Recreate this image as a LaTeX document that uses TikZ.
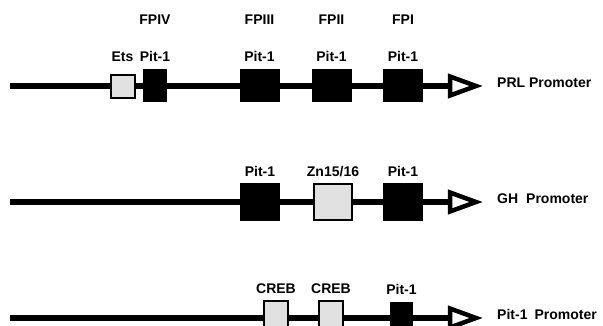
\documentclass[tikz,border=0pt]{standalone}
\usepackage{fontspec}
\setmainfont{Liberation Sans}
\usetikzlibrary{positioning}
\definecolor{boxgrey}{RGB}{225,225,225}

\begin{document}
\begin{tikzpicture}[
      x=1pt,y=-1pt,
      font=\fontsize{14}{16}\selectfont\bfseries,
      dna/.style={line width=6pt},
      tss/.style={line width=4.5pt,fill=white,line join=miter},
      pitbox/.style={fill=black,inner sep=0pt,minimum width=40pt,minimum height=38pt},
      greybox/.style={draw=black,line width=2pt,fill=boxgrey,inner sep=0pt,minimum width=38pt,minimum height=36pt},
      lbl/.style={inner sep=0pt,text height=10pt,text depth=0pt},
      promoter/.style={lbl,anchor=west}
    ]
      \useasboundingbox (0,0) rectangle (603,326);

      % PRL promoter
      \coordinate (prlstart) at (10,86);
      \coordinate (prltss) at (450,86);
      \draw[dna] (prlstart) -- (prltss);
      \draw[tss] (prltss) -- ++(0,-9.5) -- ++(26,9.5) -- ++(-26,9.5) -- cycle;
      \node[greybox,minimum width=24pt,minimum height=23pt] (ets) at (122.5,86.5) {};
      \node[pitbox,minimum width=24pt,minimum height=33pt] (fpiv) at (155,85.5) {};
      \node[pitbox,minimum height=33pt] (fpiii) at (259.5,85.5) {};
      \node[pitbox,minimum height=33pt] (fpii) at (331.5,85.5) {};
      \node[pitbox,minimum height=33pt] (fpi) at (403,85.5) {};
      \node[lbl,above=7pt of fpiv] (fpivlbl) {Pit-1};
      \node[lbl,above=7pt of fpiii] (fpiiilbl) {Pit-1};
      \node[lbl,above=7pt of fpii] (fpiilbl) {Pit-1};
      \node[lbl,above=7pt of fpi] (fpilbl) {Pit-1};
      \node[lbl] (etslbl) at (ets |- fpivlbl) {Ets};
      \node[lbl,above=27pt of fpivlbl] (fpivname) {FPIV};
      \node[lbl,above=27pt of fpiiilbl] (fpiiiname) {FPIII};
      \node[lbl,above=27pt of fpiilbl] (fpiiname) {FPII};
      \node[lbl,above=27pt of fpilbl] (fpiname) {FPI};
      \node[promoter] (prl) at (497,83) {PRL Promoter};

      % GH promoter
      \coordinate (ghstart) at (10,202);
      \coordinate (ghtss) at (450,202);
      \draw[dna] (ghstart) -- (ghtss);
      \draw[tss] (ghtss) -- ++(0,-9.5) -- ++(26,9.5) -- ++(-26,9.5) -- cycle;
      \node[pitbox] (ghpita) at (260,202) {};
      \node[greybox] (ghzn) at (333,202) {};
      \node[pitbox] (ghpitb) at (403,202) {};
      \node[lbl,above=6pt of ghpita] (ghpitalbl) {Pit-1};
      \node[lbl,above=6pt of ghzn] (ghznlbl) {Zn15/16};
      \node[lbl,above=6pt of ghpitb] (ghpitblbl) {Pit-1};
      \node[promoter] (gh) at (497,199) {GH\hspace{8pt}Promoter};

      % Pit-1 promoter
      \coordinate (pitstart) at (10,318);
      \coordinate (pittss) at (450,318);
      \draw[dna] (pitstart) -- (pittss);
      \draw[tss] (pittss) -- ++(0,-9.5) -- ++(26,9.5) -- ++(-26,9.5) -- cycle;
      \node[greybox,minimum width=24pt,minimum height=34pt] (creba) at (276,318) {};
      \node[greybox,minimum width=24pt,minimum height=34pt] (crebb) at (331,318) {};
      \node[pitbox,minimum width=23pt,minimum height=32pt] (pitpit) at (401.5,318) {};
      \node[lbl,above=6pt of creba] (crebalbl) {CREB};
      \node[lbl,above=6pt of crebb] (crebblbl) {CREB};
      \node[lbl] (pitpitlbl) at ([yshift=-1pt]pitpit |- crebalbl) {Pit-1};
      \node[promoter] (pit) at (497,314) {Pit-1\hspace{7pt}Promoter};
    \end{tikzpicture}
\end{document}
